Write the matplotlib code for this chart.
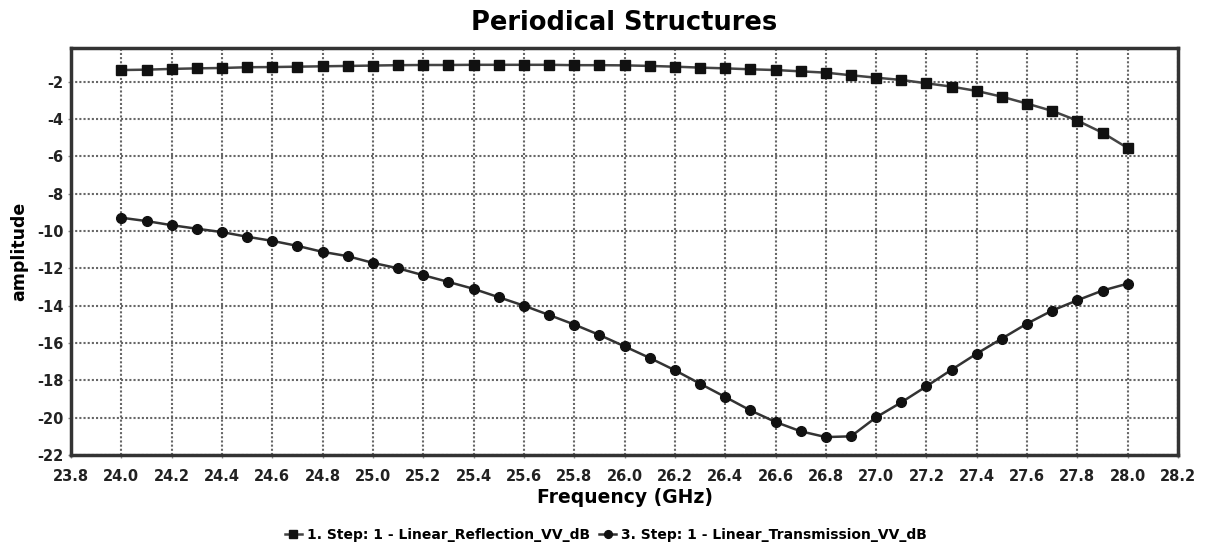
import numpy as np
import matplotlib
matplotlib.use("Agg")
import matplotlib.pyplot as plt
from matplotlib.ticker import FuncFormatter

# frequency points (GHz)
freq = [24.0, 24.1, 24.2, 24.3, 24.4, 24.5, 24.6, 24.7, 24.8, 24.9,
        25.0, 25.1, 25.2, 25.3, 25.4, 25.5, 25.6, 25.7, 25.8, 25.9,
        26.0, 26.1, 26.2, 26.3, 26.4, 26.5, 26.6, 26.7, 26.8, 26.9,
        27.0, 27.1, 27.2, 27.3, 27.4, 27.5, 27.6, 27.7, 27.8, 27.9, 28.0]

reflection = [-1.38, -1.36, -1.32, -1.29, -1.27, -1.23, -1.22, -1.20, -1.18, -1.16,
              -1.14, -1.12, -1.11, -1.11, -1.10, -1.10, -1.10, -1.10, -1.12, -1.12,
              -1.13, -1.16, -1.20, -1.25, -1.29, -1.34, -1.38, -1.45, -1.52, -1.66,
              -1.79, -1.91, -2.09, -2.27, -2.50, -2.81, -3.18, -3.57, -4.09, -4.74, -5.56]

transmission = [-9.29, -9.47, -9.69, -9.88, -10.06, -10.31, -10.53, -10.80, -11.12, -11.35,
                -11.71, -12.00, -12.37, -12.73, -13.10, -13.55, -14.00, -14.50, -15.01, -15.57,
                -16.18, -16.80, -17.46, -18.18, -18.89, -19.61, -20.23, -20.73, -21.04, -21.00,
                -19.98, -19.18, -18.32, -17.43, -16.57, -15.76, -14.96, -14.26, -13.71, -13.19, -12.82]

labels = ["1. Step: 1 - Linear_Reflection_VV_dB", "3. Step: 1 - Linear_Transmission_VV_dB"]
xticks = np.round(np.arange(23.8, 28.21, 0.2), 1)
yticks = np.arange(-22, -1, 2)

fig = plt.figure(figsize=(12.12, 5.48), dpi=100)
ax = fig.add_axes([0.0586, 0.1697, 0.9134, 0.7427])

ax.plot(freq, reflection, color="#444444", lw=1.8, marker="s", ms=7,
        mfc="#111111", mec="#111111", label=labels[0])
ax.plot(freq, transmission, color="#333333", lw=1.8, marker="o", ms=7,
        mfc="#111111", mec="#111111", label=labels[1])

ax.set_xlim(23.8, 28.2)
ax.set_ylim(-22, -0.2)
ax.set_xticks(xticks)
ax.set_yticks(yticks)
ax.xaxis.set_major_formatter(FuncFormatter(lambda v, p: "%.1f" % v))
ax.yaxis.set_major_formatter(FuncFormatter(lambda v, p: "%d" % v))
ax.tick_params(length=2, width=1, color="#888888", labelsize=10.5)
ax.tick_params(axis="x", pad=8)
for lab in ax.get_xticklabels() + ax.get_yticklabels():
    lab.set_fontweight("bold")
    lab.set_color("#222222")

ax.grid(True, color="#666666", linestyle=(0, (1, 1)), linewidth=1.5)
for s in ax.spines.values():
    s.set_color("#333333")
    s.set_linewidth(2.5)

ax.set_title("Periodical Structures", fontsize=18.5, fontweight="bold", pad=13)
ax.set_xlabel("Frequency (GHz)", fontsize=13.5, fontweight="bold", labelpad=3)
ax.set_ylabel("amplitude", fontsize=12.5, fontweight="bold", labelpad=6)

fig.legend(loc="lower center", bbox_to_anchor=(0.5, -0.012), ncol=2, frameon=False,
           handlelength=1.2, handletextpad=0.35, columnspacing=0.7,
           markerscale=0.8, prop={"size": 10, "weight": "bold"})

fig.savefig("out.png", dpi=100)
